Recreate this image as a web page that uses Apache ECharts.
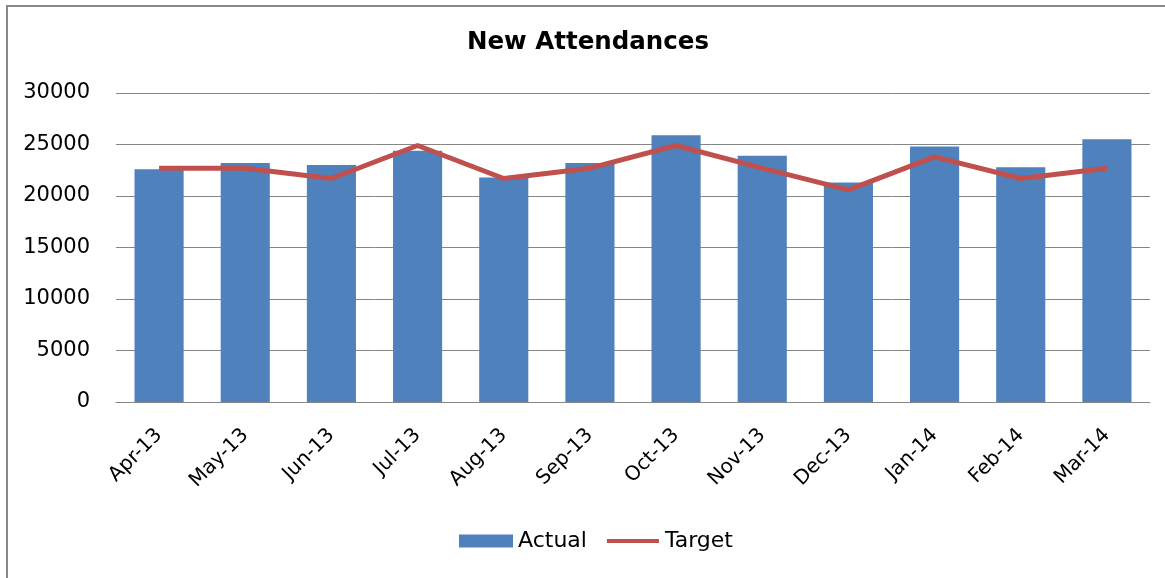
<!DOCTYPE html>
<html>
<head>
<meta charset="utf-8">
<script src="https://cdn.jsdelivr.net/npm/echarts@6/dist/echarts.min.js"></script>
<style>
html,body{margin:0;padding:0;background:#fff;}
#wrap{position:relative;width:1165px;height:578px;overflow:hidden;}
#frame{position:absolute;left:6px;top:5px;width:1200px;height:640px;border-left:2px solid #888;border-top:2px solid #888;box-sizing:border-box;}
#chart{position:absolute;left:0;top:0;width:1165px;height:578px;}
</style>
</head>
<body>
<div id="wrap">
<div id="frame"></div>
<div id="chart"></div>
</div>
<script>
var categories = ["Apr-13","May-13","Jun-13","Jul-13","Aug-13","Sep-13","Oct-13","Nov-13","Dec-13","Jan-14","Feb-14","Mar-14"];
var actual = [22600,23200,23000,24400,21800,23200,25900,23900,21300,24800,22800,25500];
var target = [22700,22700,21700,24900,21700,22700,24900,22700,20600,23800,21700,22700];
var yTicks = [0,5000,10000,15000,20000,25000,30000];

var FONT = "DejaVu Sans";
var chart = echarts.init(document.getElementById('chart'), null, {renderer:'canvas'});
chart.setOption({
  animation:false,
  backgroundColor:'transparent',
  title:{
    text:'New Attendances',
    left:467, top:30, padding:0,
    textStyle:{fontFamily:FONT,fontWeight:'bold',fontSize:24.5,color:'#000'}
  },
  legend:{
    data:[
      {name:'Actual',icon:'rect'},
      {name:'Target',icon:'path://M0,0 L0,0.01 M0,4.5 L52,4.5 L52,8.5 L0,8.5 Z M52,13 L52,12.99'}
    ],
    left:459, top:530, padding:0,
    itemWidth:54, itemHeight:13, itemGap:20,
    textStyle:{fontFamily:FONT,fontSize:22,color:'#000'}
  },
  grid:{left:116,right:15,top:93,bottom:176,containLabel:false},
  xAxis:{
    type:'category',
    data:categories,
    axisLine:{show:true,lineStyle:{color:'#868686',width:1}},
    axisTick:{show:false},
    axisLabel:{rotate:45,margin:30,fontFamily:FONT,fontSize:20,color:'#000'}
  },
  yAxis:{
    type:'value',
    min:yTicks[0], max:yTicks[yTicks.length-1], interval:5000,
    axisLine:{show:false},
    axisTick:{show:false},
    splitLine:{show:true,lineStyle:{color:'#868686',width:1}},
    axisLabel:{margin:26,fontFamily:FONT,fontSize:21,color:'#000',formatter:function(v){return String(v);}}
  },
  series:[
    {name:'Actual',type:'bar',data:actual,barCategoryGap:'43%',itemStyle:{color:'#4F81BD'}},
    {name:'Target',type:'line',data:target,symbol:'none',lineStyle:{color:'#C0504D',width:5},itemStyle:{color:'#C0504D'}}
  ]
});
</script>
</body>
</html>
